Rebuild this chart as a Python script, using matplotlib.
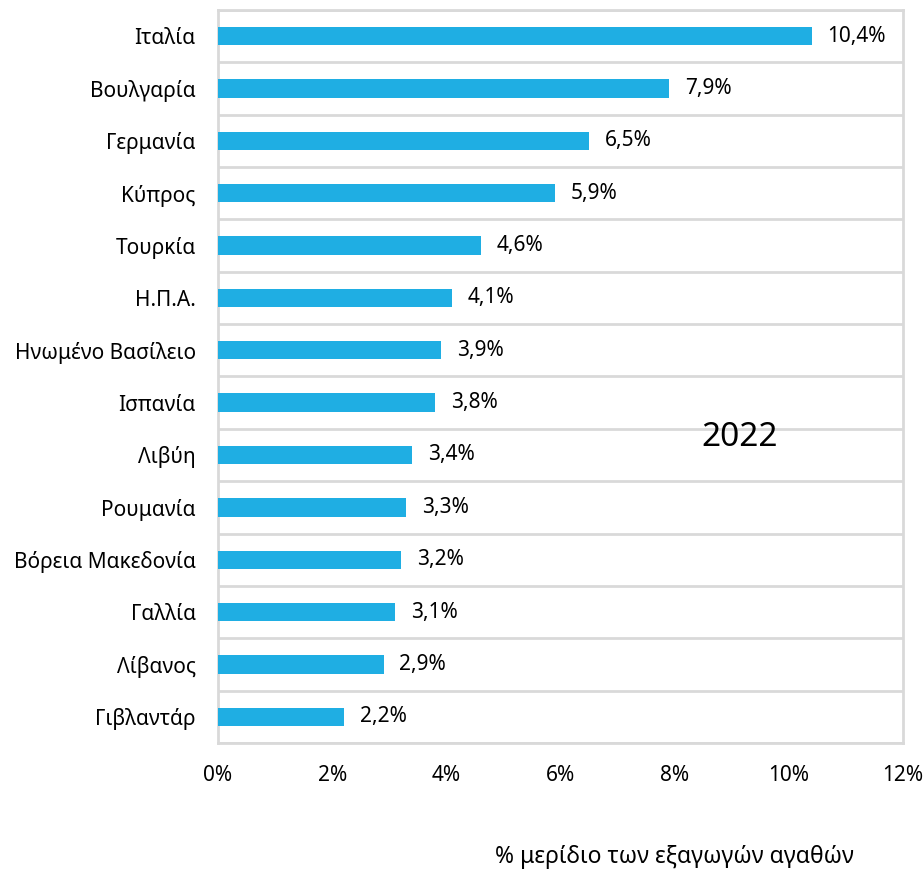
import numpy as np
import matplotlib.pyplot as plt

## fonts
plt.rcParams['font.family'] = ['Noto Sans', 'DejaVu Sans']

## data
countries = ["Ιταλία", "Βουλγαρία", "Γερμανία", "Κύπρος", "Τουρκία", "Η.Π.Α.",
             "Ηνωμένο Βασίλειο", "Ισπανία", "Λιβύη", "Ρουμανία",
             "Βόρεια Μακεδονία", "Γαλλία", "Λίβανος", "Γιβλαντάρ"]
shares = [10.4, 7.9, 6.5, 5.9, 4.6, 4.1, 3.9, 3.8, 3.4, 3.3, 3.2, 3.1, 2.9, 2.2]
xticks = [0, 2, 4, 6, 8, 10, 12]
year_label = "2022"
x_title = "% μερίδιο των εξαγωγών αγαθών"

bar_color = "#1FAEE3"
grid_color = "#D9D9D9"

fig = plt.figure(figsize=(9.24, 8.71), dpi=100)
ax = fig.add_axes([0.2359, 0.147, 0.7413, 0.8416])

y = np.arange(len(countries))
ax.barh(y, shares, height=0.35, color=bar_color, zorder=3)
ax.set_ylim(len(countries) - 0.5, -0.5)
ax.set_xlim(0, 12)

## value labels
for yi, v in zip(y, shares):
    ax.text(v + 0.28, yi, f"{v:.1f}%".replace(".", ","), va="center", ha="left",
            fontsize=15, color="#000000", zorder=4)

ax.set_yticks(y)
ax.set_yticklabels(countries, fontsize=15)
ax.set_xticks(xticks)
ax.set_xticklabels([f"{t}%" for t in xticks], fontsize=15)
ax.tick_params(axis="both", length=0)
ax.tick_params(axis="x", pad=16)
ax.tick_params(axis="y", pad=16)

## horizontal separators between categories
ax.set_yticks(np.arange(len(countries) + 1) - 0.5, minor=True)
ax.tick_params(axis="y", which="minor", length=0)
ax.grid(axis="y", which="minor", color=grid_color, linewidth=2, zorder=0)

for s in ax.spines.values():
    s.set_color(grid_color)
    s.set_linewidth(2)

ax.text(0.762, 0.417, year_label, transform=ax.transAxes, fontsize=24,
        ha="center", va="center")
fig.text(0.73, 0.016, x_title, fontsize=16.5, ha="center", va="center")

fig.savefig("out.png", dpi=100)
